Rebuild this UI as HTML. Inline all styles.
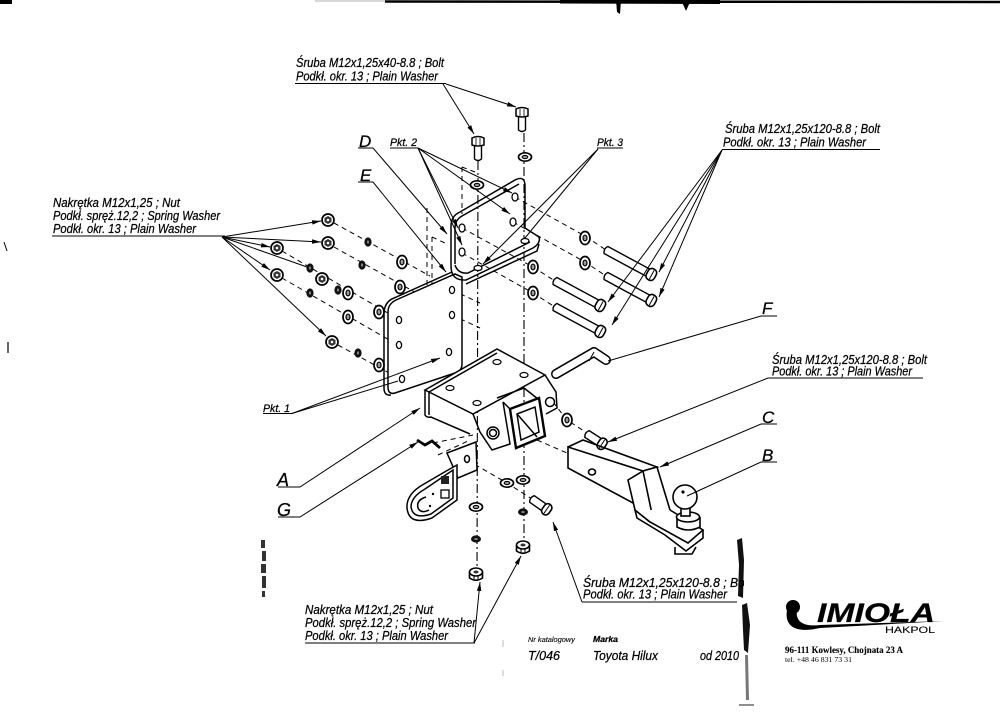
<!DOCTYPE html>
<html><head><meta charset="utf-8"><style>
html,body{margin:0;padding:0;background:#fff;}
svg{display:block;}
text{font-family:"Liberation Sans",sans-serif;font-style:italic;fill:#000;stroke:#000;stroke-width:0.25;}
</style></head><body>
<svg width="1000" height="728" viewBox="0 0 1000 728" xmlns="http://www.w3.org/2000/svg">
<defs>
<marker id="ar" viewBox="0 0 10 10" refX="10" refY="5" markerWidth="9" markerHeight="9" orient="auto" markerUnits="userSpaceOnUse"><path d="M0,2.5 L10,5 L0,7.5Z" fill="#000"/></marker>
<clipPath id="clipT5"><rect x="570" y="570" width="174" height="40"/></clipPath>
<g id="nut"><circle r="6" fill="#fff" stroke="#000" stroke-width="1.7"/><path d="M-3.5,-2 L0,-4 L3.5,-2 L3.5,2 L0,4 L-3.5,2Z" fill="#333"/><circle r="1.3" fill="#fff"/></g>
<g id="sw"><ellipse rx="3.6" ry="4.6" fill="#111"/><ellipse rx="1" ry="1.6" fill="#888"/></g>
<g id="pw"><ellipse rx="5" ry="6.5" fill="#fff" stroke="#000" stroke-width="1.7"/><ellipse rx="2" ry="2.8" fill="#999" stroke="#000" stroke-width="1.2"/></g>
<g id="pwh"><ellipse rx="6.5" ry="4.2" fill="#fff" stroke="#000" stroke-width="1.7"/><ellipse rx="2.8" ry="1.6" fill="#999" stroke="#000" stroke-width="1.1"/></g>
<g id="swh"><ellipse rx="5" ry="3.6" fill="#111"/><ellipse rx="1.8" ry="1" fill="#888"/></g>
<g id="nuth"><path d="M-6.5,-1 L-6.5,5 Q0,9.5 6.5,5 L6.5,-1" fill="#fff" stroke="#000" stroke-width="1.6"/><ellipse cy="-1" rx="6.5" ry="4" fill="#fff" stroke="#000" stroke-width="1.6"/><ellipse cy="-1" rx="2.6" ry="1.5" fill="#333"/><path d="M-2,3 L-2,7 M2,3 L2,7" stroke="#000" stroke-width="1"/></g>
<g id="vbolt"><path d="M-3.5,8 L-3.5,22 Q0,25 3.5,22 L3.5,8" fill="#fff" stroke="#000" stroke-width="1.4"/><path d="M-6,1 Q0,-2 6,1 L6,8 Q0,10 -6,8Z" fill="#fff" stroke="#000" stroke-width="1.5"/><path d="M-2,1 L-2,8 M2,1 L2,8" stroke="#000" stroke-width="0.8"/></g>
<g id="lbolt"><path d="M0,-4 L48,-4 L48,4 L0,4 Q-3,0 0,-4Z" fill="#fff" stroke="#000" stroke-width="1.4"/><rect x="47" y="-6" width="9" height="12" rx="4" fill="#fff" stroke="#000" stroke-width="1.6"/><path d="M52,-5 L52,5" stroke="#000" stroke-width="1"/></g>
<g id="sbolt"><path d="M0,-4 L15,-4 L15,4 L0,4 Q-3,0 0,-4Z" fill="#fff" stroke="#000" stroke-width="1.4"/><rect x="14" y="-6" width="8" height="12" rx="4" fill="#fff" stroke="#000" stroke-width="1.6"/><path d="M18,-5 L18,5" stroke="#000" stroke-width="1"/></g>
</defs>

<!-- scan artifacts -->
<rect x="0" y="0" width="12" height="4" fill="#000"/>
<path d="M315,1 L385,1" stroke="#ccc" stroke-width="1.5"/>
<path d="M385,1.5 L1000,2" stroke="#000" stroke-width="2.5"/>
<path d="M560,1.5 L720,2" stroke="#000" stroke-width="4"/>
<path d="M616,0 L621,0 L620,14 L617,12Z" fill="#000"/>
<path d="M682,2 L690,2 L686,11Z" fill="#000"/>
<path d="M4,242 L7,251" stroke="#000" stroke-width="1"/>
<path d="M8,342 L8,353" stroke="#000" stroke-width="1.2"/>
<path d="M737,540 L742,538 L744,560 L743,598 L738,596 L739,565Z" fill="#111"/>
<path d="M742,605 L747,603 L750,625 L748,653 L744,650 L743,630Z" fill="#111"/>
<path d="M745,655 L748,655 L749,700 L746,700Z" fill="#777"/>
<path d="M739,705 L754,705" stroke="#444" stroke-width="1.2"/>
<g fill="#333"><rect x="261" y="540" width="4" height="8"/><rect x="262" y="551" width="4" height="10"/><rect x="261" y="564" width="5" height="9"/><rect x="262" y="576" width="4" height="12"/><rect x="262" y="591" width="3" height="6"/></g>
<path d="M503,640 L503,647 M503,670 L503,676" stroke="#bbb" stroke-width="1"/>

<!-- dashed / centre lines -->
<g stroke="#000" stroke-width="1" fill="none" stroke-dasharray="5 4">
<path d="M334,223 L430,276"/>
<path d="M334,247 L420,295"/>
<path d="M282,251 L398,319 L428,334"/>
<path d="M282,278 L398,345 L428,361"/>
<path d="M338,345 L402,380"/>
<path d="M452,290 L480,303"/>
<path d="M452,315 L480,328"/>
<path d="M462,228 L533,267 L555,281"/>
<path d="M462,253 L533,293 L555,307"/>
<path d="M515,197 L585,236 L606,250"/>
<path d="M513,222 L585,262 L606,276"/>
<path d="M427,208 L427,365"/>
<path d="M432,237 L432,337 M432,237 L445,243"/>
<path d="M462,167 L462,214 M462,167 L475,172"/>
<path d="M433,443 L473,435"/>
<path d="M438,455 L470,440"/>
<path d="M467,460 L507,483 L532,499"/>
<path d="M553,402 L567,420 L587,433"/>
<path d="M537,440 L567,453"/>
</g>
<g stroke="#000" stroke-width="1.1" fill="none" stroke-dasharray="9 3 2 3">
<path d="M478,161 L477,575"/>
<path d="M524,133 L524,548"/>
</g>

<!-- top bolts and washers -->
<use href="#vbolt" x="478" y="137"/>
<use href="#vbolt" x="522" y="108"/>
<use href="#pwh" x="477" y="185"/>
<use href="#pwh" x="525" y="157"/>

<!-- bracket E (left plate) -->
<g fill="none" stroke="#000" stroke-width="1.5">
<path d="M388,312 Q388,304 396,300 L455,274 L462,277 L462,364 Q462,371 455,373 L395,393 Q388,395 388,387 Z" fill="#fff"/>
<path d="M384,388 L384,314 Q384,302 394,298 L452,272"/>
<path d="M384,388 Q384,396 391,395"/>
</g>
<g fill="#fff" stroke="#000" stroke-width="1.3">
<ellipse cx="399" cy="320" rx="2.6" ry="3.6"/><ellipse cx="399" cy="345" rx="2.6" ry="3.6"/>
<ellipse cx="452" cy="290" rx="2.6" ry="3.6"/><ellipse cx="452" cy="315" rx="2.6" ry="3.6"/>
<ellipse cx="402" cy="379" rx="2.6" ry="3.6"/><ellipse cx="449" cy="352" rx="2.6" ry="3.6"/>
</g>

<!-- bracket D -->
<g fill="none" stroke="#000" stroke-width="1.5">
<path d="M451,266 L451,226 Q451,216 460,212 L515,180 Q525,175 525,186 L525,228"/>
<path d="M455,264 L455,228 Q455,220 462,216 L519,184"/>
<path d="M451,266 Q451,281 466,280 L533,248 Q541,243 539,237 L525,228"/>
<path d="M455,265 Q458,274 468,273 L530,242"/>
<path d="M466,284 L537,251 L539,244"/>
</g>
<g fill="#fff" stroke="#000" stroke-width="1.3">
<ellipse cx="462" cy="228" rx="3" ry="4"/><ellipse cx="462" cy="252" rx="3" ry="4"/>
<ellipse cx="515" cy="197" rx="3" ry="4"/><ellipse cx="513" cy="222" rx="3" ry="4"/>
<ellipse cx="478" cy="268" rx="4" ry="2.5"/><ellipse cx="525" cy="241" rx="4" ry="2.5"/>
</g>

<!-- nuts / washers left group -->
<use href="#nut" x="328" y="220"/><use href="#sw" x="368" y="242"/><use href="#pw" x="402" y="262"/>
<use href="#nut" x="328" y="243"/><use href="#sw" x="362" y="265"/><use href="#pw" x="400" y="287"/>
<use href="#nut" x="277" y="248"/><use href="#sw" x="310" y="268"/><use href="#nut" x="322" y="279"/><use href="#sw" x="338" y="290"/><use href="#pw" x="348" y="293"/><use href="#pw" x="379" y="312"/>
<use href="#nut" x="277" y="275"/><use href="#sw" x="310" y="293"/><use href="#pw" x="348" y="317"/>
<use href="#nut" x="332" y="342"/><use href="#sw" x="358" y="353"/><use href="#pw" x="379" y="365"/>

<!-- right group washers and long bolts -->
<use href="#pw" x="585" y="238"/><use href="#pw" x="585" y="263"/>
<use href="#pw" x="533" y="267"/><use href="#pw" x="533" y="293"/>
<use href="#lbolt" transform="translate(606,250) rotate(28.4)"/>
<use href="#lbolt" transform="translate(606,276) rotate(28.4)"/>
<use href="#lbolt" transform="translate(555,281) rotate(28.4)"/>
<use href="#lbolt" transform="translate(555,307) rotate(28.4)"/>

<!-- crossmember A -->
<g fill="none" stroke="#000" stroke-width="1.5">
<path d="M425,390 L497,349 L545,375 L473,414 Z" fill="#fff"/>
<path d="M429,392 L497,353"/>
<path d="M425,390 L425,415 Q427,418 431,417 L470,434"/>
<path d="M429,392 L429,415"/>
<path d="M473,414 L480,432 L492,450 L510,444 L503,402"/>
<path d="M497,398 L524,388 L538,399 M503,402 L511,410"/>
<path d="M545,375 L556,392 L557,408 L546,414"/>
<path d="M510,409 L539,398 L545,436 L516,448 Z" fill="#fff" stroke-width="2.4"/>
<path d="M517,414 L535,407 L539,432 L521,440 Z"/>
<path d="M518,415 L537,437"/>
<circle cx="493" cy="433" r="6"/><circle cx="493" cy="433" r="3.5"/>
<circle cx="550" cy="402" r="4.5" fill="#fff"/>
</g>
<g fill="#fff" stroke="#000" stroke-width="1.2">
<ellipse cx="450" cy="388" rx="4" ry="2.5"/><ellipse cx="497" cy="362" rx="4" ry="2.5"/>
<ellipse cx="477" cy="403" rx="4" ry="2.5"/><ellipse cx="524" cy="375" rx="4" ry="2.5"/>
</g>

<!-- socket G -->
<g fill="none" stroke="#000" stroke-width="1.5">
<path d="M447,453 L476,442 L477,470 L458,478 Z" fill="#fff"/>
<ellipse cx="467" cy="459" rx="2.5" ry="3.5"/>
<path d="M457,465 L457,500 L432,518 Q409,526 407,508 Q406,494 424,484 L448,470 Z" fill="#fff"/>
<path d="M453,470 L453,498 L431,514 Q413,520 411,507 Q411,497 425,489 Z"/>
<path d="M426,497 Q416,500 418,508 Q421,514 429,510"/>
<path d="M417,440 L425,445 L432,441 L440,448" stroke-width="2.8"/>
</g>
<rect x="441" y="476" width="8" height="8" fill="#222"/>
<rect x="441" y="490" width="8" height="8" fill="none" stroke="#000" stroke-width="1.3"/>
<circle cx="433" cy="494" r="1.2" fill="#000"/><circle cx="430" cy="506" r="1.2" fill="#000"/>

<!-- lower washers and nuts -->
<use href="#pwh" x="507" y="483"/>
<use href="#pwh" x="476" y="507"/><use href="#swh" x="476" y="539"/><use href="#nuth" x="476" y="573"/>
<use href="#pwh" x="523" y="480"/><use href="#swh" x="523" y="512"/><use href="#nuth" x="523" y="546"/>
<use href="#sbolt" transform="translate(532,499) rotate(35)"/>

<!-- pin F, bolt C, washer -->
<path d="M556,374 L594,352 L606,360" fill="none" stroke="#000" stroke-width="10" stroke-linecap="round" stroke-linejoin="round"/>
<path d="M556,374 L594,352 L606,360" fill="none" stroke="#fff" stroke-width="7" stroke-linecap="round" stroke-linejoin="round"/>
<path d="M594,352 L589,361" stroke="#000" stroke-width="1"/>
<use href="#pw" x="567" y="420"/>
<use href="#sbolt" transform="translate(587,434) rotate(33)"/>

<!-- ball mount -->
<g fill="none" stroke="#000" stroke-width="1.6">
<path d="M568,447 L643,471 L633,503 L568,468 Z" fill="#fff"/>
<path d="M568,447 L583,440 L657,467 L643,471"/>
<ellipse cx="592" cy="472" rx="3.5" ry="3"/>
<path d="M628,480 L643,471 L657,467 L670,510 L650,522 L635,510 Z" fill="#fff"/>
<path d="M643,471 L652,514"/>
<path d="M635,510 L650,522 L688,543 L703,530 L670,510" fill="#fff"/>
<path d="M635,510 L637,518 L665,535 L686,551 L703,538 L703,530"/>
<path d="M675,547 L675,554 L692,554 L696,547"/>
<path d="M677,517 L677,527 Q688,533 700,527 L700,517" fill="#fff"/>
<ellipse cx="688" cy="517" rx="11.5" ry="5" fill="#fff"/>
<rect x="681" y="507" width="9" height="9" fill="#fff"/>
<circle cx="685" cy="497" r="12" fill="#fff"/>
</g>
<circle cx="683" cy="492" r="1.6" fill="#000"/>

<!-- leader lines -->
<g stroke="#000" stroke-width="1" fill="none">
<path d="M295,83.5 L446,83.5"/>
<path d="M443,84 L474,134" marker-end="url(#ar)"/>
<path d="M446,84 L516,107" marker-end="url(#ar)"/>
<path d="M358,148 L373,148 L447,234" marker-end="url(#ar)"/>
<path d="M358,182 L373,182 L446,272" marker-end="url(#ar)"/>
<path d="M390,148 L418,148"/>
<path d="M418,148 L458,228" marker-end="url(#ar)"/>
<path d="M418,148 L462,245" marker-end="url(#ar)"/>
<path d="M418,148 L510,214" marker-end="url(#ar)"/>
<path d="M418,148 L512,193" marker-end="url(#ar)"/>
<path d="M597,148 L623,148"/>
<path d="M598,149 L525,238"/>
<path d="M598,149 L483,264" marker-end="url(#ar)"/>
<path d="M52,236 L225,236"/>
<path d="M222,237 L321,221" marker-end="url(#ar)"/>
<path d="M222,237 L321,242" marker-end="url(#ar)"/>
<path d="M222,237 L270,247" marker-end="url(#ar)"/>
<path d="M222,237 L270,270" marker-end="url(#ar)"/>
<path d="M222,237 L307,267"/>
<path d="M222,237 L326,336" marker-end="url(#ar)"/>
<path d="M722,149.5 L880,149.5"/>
<path d="M722,150 L659,272" marker-end="url(#ar)"/>
<path d="M722,150 L659,297" marker-end="url(#ar)"/>
<path d="M722,150 L608,302" marker-end="url(#ar)"/>
<path d="M722,150 L612,325" marker-end="url(#ar)"/>
<path d="M608,361 L761,316 L777,316"/>
<path d="M768,378 L923,378"/>
<path d="M768,378 L608,442" marker-end="url(#ar)"/>
<path d="M777,424 L761,424 L660,467" marker-end="url(#ar)"/>
<path d="M777,462 L761,462 L687,496"/>
<path d="M582,602 L737,602"/>
<path d="M582,602 L553,522" marker-end="url(#ar)"/>
<path d="M305,643 L475,643"/>
<path d="M474,643 L480,582" marker-end="url(#ar)"/>
<path d="M474,643 L521,556" marker-end="url(#ar)"/>
<path d="M278,487 L300,487 L420,408" marker-end="url(#ar)"/>
<path d="M278,517 L300,517 L418,442" marker-end="url(#ar)"/>
<path d="M263,413.5 L292,413.5 L440,358" marker-end="url(#ar)"/>
<path d="M292,413.5 L398,381"/>
</g>

<!-- texts -->
<text x="296" y="67" font-size="12.5" textLength="148" lengthAdjust="spacingAndGlyphs">Śruba M12x1,25x40-8.8 ;  Bolt</text>
<text x="296" y="80.5" font-size="12.5" textLength="142" lengthAdjust="spacingAndGlyphs">Podkł. okr. 13 ; Plain Washer</text>

<text x="53" y="207" font-size="12.5" textLength="127" lengthAdjust="spacingAndGlyphs">Nakrętka  M12x1,25 ; Nut</text>
<text x="53" y="220" font-size="12.5" textLength="167" lengthAdjust="spacingAndGlyphs">Podkł. spręż.12,2 ; Spring Washer</text>
<text x="53" y="233" font-size="12.5" textLength="143" lengthAdjust="spacingAndGlyphs">Podkł. okr. 13 ; Plain Washer</text>

<text x="725" y="133" font-size="12.5" textLength="155" lengthAdjust="spacingAndGlyphs">Śruba M12x1,25x120-8.8 ;  Bolt</text>
<text x="723" y="146.5" font-size="12.5" textLength="143" lengthAdjust="spacingAndGlyphs">Podkł. okr. 13 ; Plain Washer</text>

<text x="772" y="364" font-size="12.5" textLength="155" lengthAdjust="spacingAndGlyphs">Śruba M12x1,25x120-8.8 ;  Bolt</text>
<text x="772" y="375.5" font-size="12.5" textLength="140" lengthAdjust="spacingAndGlyphs">Podkł. okr. 13 ; Plain Washer</text>

<g clip-path="url(#clipT5)">
<text x="583" y="587" font-size="12.5" textLength="168" lengthAdjust="spacingAndGlyphs">Śruba M12x1,25x120-8.8 ;  Bolt</text>
</g>
<text x="583" y="598.5" font-size="12.5" textLength="144" lengthAdjust="spacingAndGlyphs">Podkł. okr. 13 ; Plain Washer</text>

<text x="305" y="614" font-size="12.5" textLength="128" lengthAdjust="spacingAndGlyphs">Nakrętka  M12x1,25 ; Nut</text>
<text x="305" y="627" font-size="12.5" textLength="171" lengthAdjust="spacingAndGlyphs">Podkł. spręż.12,2 ; Spring Washer</text>
<text x="305" y="640" font-size="12.5" textLength="143" lengthAdjust="spacingAndGlyphs">Podkł. okr. 13 ; Plain Washer</text>

<text x="359" y="147" font-size="17">D</text>
<text x="360" y="181" font-size="17">E</text>
<text x="390" y="146" font-size="11" textLength="27" lengthAdjust="spacingAndGlyphs">Pkt. 2</text>
<text x="597" y="146" font-size="11" textLength="26" lengthAdjust="spacingAndGlyphs">Pkt. 3</text>
<text x="263" y="412" font-size="11" textLength="27" lengthAdjust="spacingAndGlyphs">Pkt. 1</text>
<text x="762" y="314" font-size="17">F</text>
<text x="762" y="423" font-size="17">C</text>
<text x="762" y="461" font-size="17">B</text>
<text x="277" y="486" font-size="18">A</text>
<text x="277" y="516" font-size="18">G</text>

<text x="528" y="642" font-size="7" textLength="47" lengthAdjust="spacingAndGlyphs" style="stroke-width:0.1">Nr katalogowy</text>
<text x="593" y="642" font-size="8.5" font-weight="bold" textLength="25" lengthAdjust="spacingAndGlyphs">Marka</text>
<text x="528" y="660" font-size="13" textLength="32" lengthAdjust="spacingAndGlyphs">T/046</text>
<text x="593" y="660" font-size="13" textLength="65" lengthAdjust="spacingAndGlyphs">Toyota Hilux</text>
<text x="700" y="660" font-size="13" textLength="39" lengthAdjust="spacingAndGlyphs">od 2010</text>

<!-- logo -->
<circle cx="793" cy="607" r="7" fill="#000"/>
<path d="M787,610 C784,628 798,633 820,628 L945,621 L820,625 C804,627 795,622 797,610 Z" fill="#000"/>
<text x="817" y="622" font-size="27" font-weight="bold" textLength="118" lengthAdjust="spacingAndGlyphs">IMIOŁA</text>
<text x="885" y="633" font-size="9" textLength="50" lengthAdjust="spacingAndGlyphs" style="font-style:normal;stroke-width:0.1">HAKPOL</text>
<text x="785" y="653" font-size="9.5" font-weight="bold" textLength="118" lengthAdjust="spacingAndGlyphs" style="font-family:'Liberation Serif',serif;font-style:normal;stroke-width:0.1">96-111 Kowlesy, Chojnata 23 A</text>
<text x="785" y="662" font-size="7" textLength="67" lengthAdjust="spacingAndGlyphs" style="font-family:'Liberation Serif',serif;font-style:normal;stroke-width:0">tel. +48 46 831 73 31</text>
</svg>
</body></html>
